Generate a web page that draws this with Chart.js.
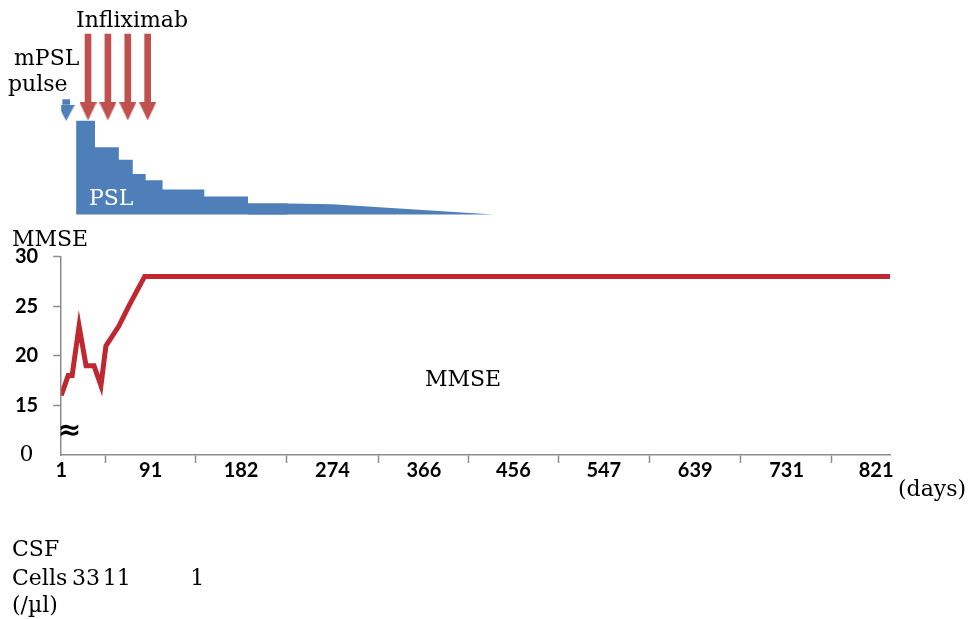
<!DOCTYPE html>
<html><head><meta charset="utf-8">
<script src="https://cdn.jsdelivr.net/npm/chart.js@4/dist/chart.umd.min.js"></script>
<style>html,body{margin:0;padding:0;background:#fff;}#wrap{width:970px;height:619px;position:relative;}</style>
</head><body><div id="wrap"><canvas id="c" width="970" height="619"></canvas></div>
<script>
// ---------- data ----------
const xTickDays = [1, 91, 182, 274, 366, 456, 547, 639, 731, 821];
const yTickValues = [10, 15, 20, 25, 30];          // 10 sits at the axis break
const yTickLabels = ['0', '15', '20', '25', '30'];
const mmseDays   = [1, 8, 12, 19, 26, 34, 41, 46, 59, 69, 85, 835];
const mmseScores = [16, 18, 18, 23, 19, 19, 17, 21, 23, 25, 28, 28];
const pslStepDays  = [16, 35, 59, 73, 86, 103, 145, 189, 229];
const pslStepDose  = [60, 43, 35, 26, 22, 16, 11.5, 7, 7];
const pslTaperDays = [189, 229, 274, 436];
const pslTaperDose = [7, 7, 6.5, 0];
const infliximabDays = [28, 48, 68, 88];
const mpslPulseDays  = [6];
const csfDays  = [26, 57, 138];
const csfCells = [33, 11, 1];

// ---------- styles / layout constants ----------
const RED_LINE = '#BF2830', RED_ARROW = '#C0504D', BLUE = '#4F7FB8', AXIS = '#8C8C8C';
const SERIF = '"DejaVu Serif", "Liberation Serif", serif';
const SANS_B = {family: 'Lato, "Open Sans", sans-serif', size: 20, weight: 'bold'};
const ARROW = {redTop: 115.5, redBottom: 72.1, redHead: 66.0, blueTop: 73.5, blueBottom: 70.5, blueHead: 65.0};

function makeHead(w, h, color) {
  const c = document.createElement('canvas'); c.width = w; c.height = h;
  const g = c.getContext('2d'); g.fillStyle = color;
  g.beginPath(); g.moveTo(0, 0); g.lineTo(w, 0); g.lineTo(w / 2, h); g.closePath(); g.fill();
  return c;
}
const redHead = makeHead(17, 18, RED_ARROW);
const blueHead = makeHead(17, 16, BLUE);

const pts = (xs, ys) => xs.map((x, i) => ({x, y: ys[i]}));

const textPlugin = {
  id: 'texts',
  afterDatasetsDraw(chart) {
    const {ctx} = chart, x = chart.scales.x;
    ctx.save();
    ctx.textBaseline = 'alphabetic';
    ctx.font = '22px ' + SERIF;
    ctx.fillStyle = '#fff';
    ctx.textAlign = 'left';
    ctx.fillText('PSL', 89, 205);
    ctx.fillStyle = '#000';
    ctx.fillText('Infliximab', 76, 27);
    ctx.fillText('mPSL', 14, 65);
    ctx.fillText('pulse', 8, 91);
    ctx.fillText('MMSE', 12, 246);
    ctx.fillText('MMSE', 425, 386);
    ctx.fillText('(days)', 898, 496);
    ctx.fillText('CSF', 12, 556);
    ctx.fillText('Cells', 12, 585);
    ctx.fillText('(/\u00b5l)', 12, 612);
    ctx.textAlign = 'center';
    csfDays.forEach((d, i) => ctx.fillText(String(csfCells[i]), x.getPixelForValue(d), 585));
    ctx.font = 'bold 28px "DejaVu Sans", sans-serif';
    ctx.textBaseline = 'middle';
    ctx.fillText('\u2248', 69.5, 432);
    ctx.restore();
  }
};

new Chart(document.getElementById('c'), {
  type: 'line',
  data: {
    datasets: [
      {label: 'PSL', data: pts(pslStepDays, pslStepDose), yAxisID: 'yp', stepped: 'before',
       borderWidth: 0, pointRadius: 0, backgroundColor: BLUE, fill: 'origin', order: 5},
      {label: 'PSL taper', data: pts(pslTaperDays, pslTaperDose), yAxisID: 'yp',
       borderWidth: 0, pointRadius: 0, backgroundColor: BLUE, fill: 'origin', order: 5},
      {type: 'bar', label: 'Infliximab', data: infliximabDays.map(d => ({x: d, y: [ARROW.redBottom, ARROW.redTop]})),
       yAxisID: 'yp', backgroundColor: RED_ARROW, barThickness: 6, grouped: false, order: 3},
      {label: 'Infliximab head', data: infliximabDays.map(d => ({x: d, y: ARROW.redHead})), yAxisID: 'yp',
       showLine: false, pointStyle: redHead, pointRadius: 9, order: 2},
      {type: 'bar', label: 'mPSL pulse', data: mpslPulseDays.map(d => ({x: d, y: [ARROW.blueBottom, ARROW.blueTop]})),
       yAxisID: 'yp', backgroundColor: BLUE, barThickness: 7, grouped: false, order: 3},
      {label: 'mPSL head', data: mpslPulseDays.map(d => ({x: d, y: ARROW.blueHead})), yAxisID: 'yp',
       showLine: false, pointStyle: blueHead, pointRadius: 9, order: 2},
      {label: 'MMSE', data: pts(mmseDays, mmseScores), yAxisID: 'y', borderColor: RED_LINE,
       borderWidth: 5, pointRadius: 0, tension: 0, fill: false, order: 1}
    ]
  },
  options: {
    responsive: false, animation: false, events: [],
    layout: {padding: {top: 0, left: 0, right: 80, bottom: 140}},
    plugins: {legend: {display: false}, tooltip: {enabled: false}},
    scales: {
      x: {
        type: 'linear', position: 'bottom', min: 1, max: 835, offset: false,
        afterBuildTicks: s => { s.ticks = xTickDays.map(v => ({value: v})); },
        ticks: {callback: v => String(v), font: SANS_B, color: '#000', padding: -4, maxRotation: 0, autoSkip: false},
        grid: {drawOnChartArea: false, tickLength: 8, tickColor: AXIS, tickWidth: 1.5},
        border: {color: AXIS, width: 1.5}
      },
      y: {
        type: 'linear', position: 'left', stack: 'v', stackWeight: 198, weight: 0, min: 10, max: 30,
        afterBuildTicks: s => { s.ticks = yTickValues.map(v => ({value: v})); },
        ticks: {
          callback: (v, i) => yTickLabels[i], color: '#000', padding: 15, crossAlign: 'center', autoSkip: false,
          font: c => (c.tick && c.tick.value === 10) ? {family: SERIF, size: 22, weight: 'normal'} : SANS_B
        },
        grid: {drawOnChartArea: false, tickLength: 8, tickWidth: 1.5,
               tickColor: c => (c.tick && c.tick.value === 10) ? 'rgba(0,0,0,0)' : AXIS},
        border: {color: AXIS, width: 1.5}
      },
      yp: {
        type: 'linear', position: 'left', stack: 'v', stackWeight: 229, weight: 1, min: -26.9, max: 120.0,
        ticks: {display: false}, grid: {display: false}, border: {display: false}
      }
    }
  },
  plugins: [textPlugin]
});
</script></body></html>
